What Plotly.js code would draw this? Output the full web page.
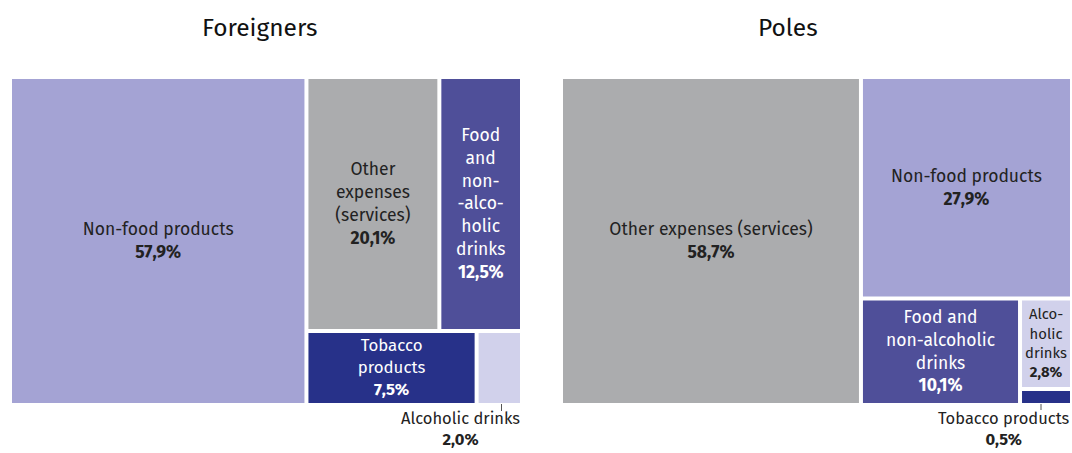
<!DOCTYPE html>
<html>
<head>
<meta charset="utf-8">
<script src="https://cdn.plot.ly/plotly-3.0.1.min.js"></script>
<style>
html,body{margin:0;padding:0;background:#fff;}
#chart{width:1072px;height:453px;}
</style>
</head>
<body>
<div id="chart"></div>
<script>
// ---- data ----
var groups = ["Foreigners", "Poles"];
var categories = ["Non-food products", "Other expenses (services)", "Food and non-alcoholic drinks", "Tobacco products", "Alcoholic drinks"];
var foreignersValues = [57.9, 20.1, 12.5, 7.5, 2.0];
var polesValues = [27.9, 58.7, 10.1, 0.5, 2.8];
// wrapped display labels per panel ("" = label shown outside the tile)
var foreignersLabels = ["Non-food products", "Other<br>expenses<br>(services)", "Food<br>and<br>non-<br>-alco-<br>holic<br>drinks", "Tobacco<br>products", ""];
var polesLabels = ["Non-food products", "Other expenses (services)", "Food and<br>non-alcoholic<br>drinks", "", "Alco-<br>holic<br>drinks"];
var outsideForeigners = {index: 4, text: "Alcoholic drinks"};
var outsidePoles = {index: 3, text: "Tobacco products"};

// ---- styles ----
var catColors = ["#A4A3D4", "#ABACAE", "#4F4F99", "#273189", "#D1D1EB"];
var catTextColors = ["#222222", "#222222", "#FFFFFF", "#FFFFFF", "#222222"];
var FONT = "'Fira Sans', 'Noto Sans', sans-serif";

function pct(v) { return v.toFixed(1).replace('.', ',') + '%'; }

function makeTrace(values, dispLabels, domainX) {
  var texts = dispLabels.map(function (l, i) {
    return l === "" ? "" : l + "<br><b>" + pct(values[i]) + "</b>";
  });
  return {
    type: "treemap",
    ids: categories,
    labels: categories,
    parents: categories.map(function () { return ""; }),
    values: values,
    text: texts,
    texttemplate: "%{text}",
    textinfo: "text",
    textposition: "middle center",
    textfont: {family: FONT, size: 17.5, color: catTextColors},
    marker: {colors: catColors, line: {width: 0}, pad: {t: 0, l: 0, r: 0, b: 0}},
    tiling: {packing: "squarify", squarifyratio: 1.618, pad: 4},
    pathbar: {visible: false},
    sort: true,
    hoverinfo: "skip",
    domain: {x: domainX, y: [1 - 403 / 453, 1 - 79 / 453]}
  };
}

var W = 1072, H = 453;
var domF = [12 / W, 520 / W];
var domP = [563 / W, 1070 / W];

var data = [
  makeTrace(foreignersValues, foreignersLabels, domF),
  makeTrace(polesValues, polesLabels, domP)
];

var annotations = [
  {text: groups[0], x: 259 / W, y: 1 - 28 / H, xref: "paper", yref: "paper", xanchor: "center", yanchor: "middle", showarrow: false, font: {family: FONT, size: 24.5, color: "#111"}},
  {text: groups[1], x: 788 / W, y: 1 - 28 / H, xref: "paper", yref: "paper", xanchor: "center", yanchor: "middle", showarrow: false, font: {family: FONT, size: 24.5, color: "#111"}},
  {text: outsideForeigners.text + "<br><b>" + pct(foreignersValues[outsideForeigners.index]) + "</b>",
   x: 522 / W, y: 1 - 407 / H, xref: "paper", yref: "paper", xanchor: "right", yanchor: "top", align: "center",
   showarrow: false, font: {family: FONT, size: 16.5, color: "#222"}},
  {text: outsidePoles.text + "<br><b>" + pct(polesValues[outsidePoles.index]) + "</b>",
   x: 1072 / W, y: 1 - 407 / H, xref: "paper", yref: "paper", xanchor: "right", yanchor: "top", align: "center",
   showarrow: false, font: {family: FONT, size: 16.5, color: "#222"}}
];

var shapes = [
  {type: "line", xref: "paper", yref: "paper", x0: 501.5 / W, x1: 501.5 / W, y0: 1 - 404 / H, y1: 1 - 411 / H, line: {color: "#555", width: 1}},
  {type: "line", xref: "paper", yref: "paper", x0: 1041 / W, x1: 1041 / W, y0: 1 - 404 / H, y1: 1 - 410 / H, line: {color: "#555", width: 1}}
];

var layout = {
  width: W, height: H,
  margin: {l: 0, r: 0, t: 0, b: 0},
  paper_bgcolor: "#fff",
  showlegend: false,
  font: {family: FONT},
  annotations: annotations,
  shapes: shapes
};

Plotly.newPlot("chart", data, layout, {displayModeBar: false, staticPlot: true});
</script>
</body>
</html>
